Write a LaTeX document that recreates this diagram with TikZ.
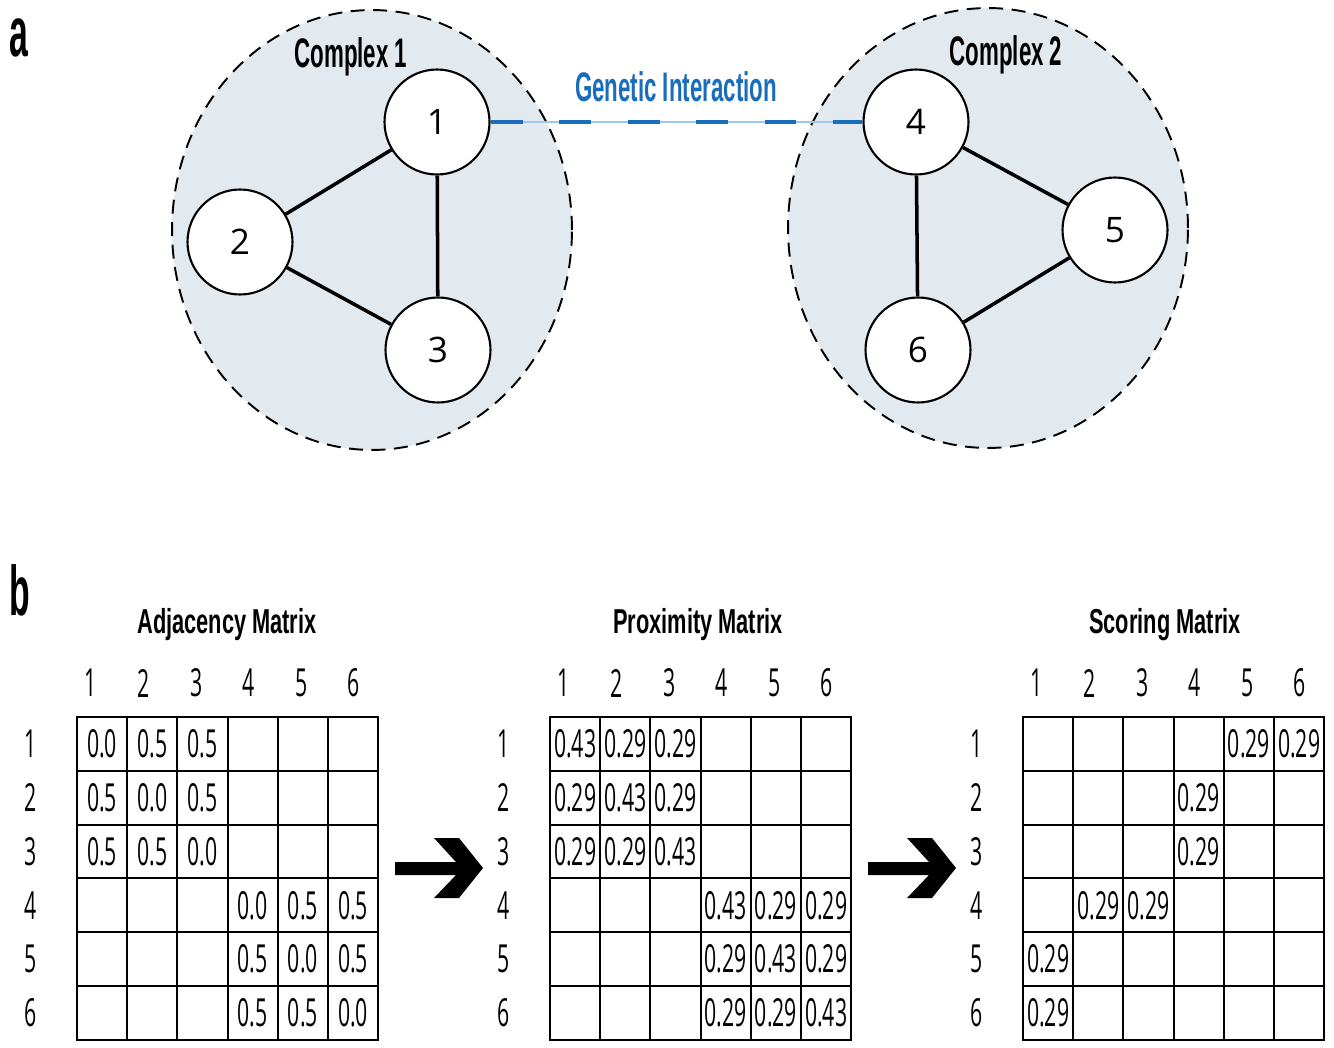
\documentclass[tikz,border=0pt]{standalone}
\usepackage{fontspec}
\setmainfont{Open Sans}
\usetikzlibrary{shapes.geometric}
\newfontfamily\numfont[FakeStretch=0.55]{Open Sans}
\newfontfamily\panelfont[FakeStretch=0.48]{Liberation Sans}
\newfontfamily\cplxfont[FakeStretch=0.54]{Liberation Sans}
\newfontfamily\titlefont[FakeStretch=0.63]{Liberation Sans}
\definecolor{cplxfill}{HTML}{E2EAF0}
\definecolor{gblue}{HTML}{1A6DBA}
\definecolor{lblue}{HTML}{9CC8EA}
\tikzset{
 cplx/.style={ellipse, draw, dash pattern=on 8pt off 4.8pt, line width=1.1pt, fill=cplxfill, inner sep=0pt},
 gnode/.style={circle, draw, fill=white, line width=1.2pt, minimum size=2.1cm, inner sep=0pt, font=\fontsize{20}{22}\selectfont},
 gedge/.style={line width=2pt},
 cell/.style={draw, line width=1.1pt, minimum width=1.004cm, minimum height=1.076cm, inner sep=0pt, outer sep=0pt},
 val/.style={inner sep=0pt, font=\numfont\fontsize{22}{24}\selectfont},
 lab/.style={inner sep=0pt, font=\numfont\fontsize{22}{24}\selectfont},
 cplxlab/.style={inner sep=0pt, anchor=base, font=\cplxfont\bfseries\fontsize{23.5}{26}\selectfont},
 mtitle/.style={inner sep=0pt, anchor=base, font=\titlefont\bfseries\fontsize{19.7}{22}\selectfont},
 panel/.style={inner sep=0pt, anchor=base west, font=\panelfont\bfseries\fontsize{40}{44}\selectfont},
 bigarrow/.style={fill=black},
}
\newcommand\mkgrid[2]{%
 \foreach \r in {1,...,6}{
  \node[lab] (#1r\r) at ({#2-46},{743.9+53.83*(\r-1)}) {\r};
  \node[lab] (#1c\r) at ({#2+14+52.6*(\r-1)},683) {\r};
  \foreach \c in {1,...,6}{
   \node[cell] (#1-\r-\c) at ({#2+25.1+50.2*(\c-1)},{743.9+53.83*(\r-1)}) {};
  }
 }
}
\newcommand\mkvals[2]{\foreach \r/\c/\v in {#2} \node[val] (#1v-\r-\c) at (#1-\r-\c) {\v};}
\newcommand\mkarrow[1]{%
 \fill[bigarrow] ({#1+395},862) -- ({#1+456},862) -- ({#1+434},838) -- ({#1+459},838) -- ({#1+483},868)
  -- ({#1+459},898) -- ({#1+434},898) -- ({#1+456},875) -- ({#1+395},875) -- cycle;}
\begin{document}
\begin{tikzpicture}[x=0.02cm,y=-0.02cm]
\useasboundingbox (0,0) rectangle (1334,1047);
% panel a
\node[panel] (pa) at (9,57) {a};
\node[cplx, minimum width=8cm, minimum height=8.8cm] (C1) at (372,230) {};
\node[cplx, minimum width=8cm, minimum height=8.8cm] (C2) at (988,228) {};
\node[cplxlab] (C1l) at (351,68) {Complex 1};
\node[cplxlab] (C2l) at (1006,66) {Complex 2};
\node[gnode] (n1) at (437,122) {1};
\node[gnode] (n2) at (240,242) {2};
\node[gnode] (n3) at (438,350) {3};
\node[gnode] (n4) at (916,122) {4};
\node[gnode] (n5) at (1115,230) {5};
\node[gnode] (n6) at (918,350) {6};
\draw[gedge] (n1) -- (n2);
\draw[gedge] (n1) -- (n3);
\draw[gedge] (n2) -- (n3);
\draw[gedge] (n4) -- (n5);
\draw[gedge] (n4) -- (n6);
\draw[gedge] (n5) -- (n6);
\draw[lblue, line width=0.8pt] (n1) -- (n4);
\draw[gblue, line width=2.8pt, dash pattern=on 0.64cm off 0.73cm] (n1) -- (n4);
\node[cplxlab, text=gblue] (gi) at (676,102) {Genetic Interaction};
% panel b
\node[panel] (pb) at (9,615) {b};
\node[mtitle] (t1) at (227,633) {Adjacency Matrix};
\node[mtitle] (t2) at (698,633) {Proximity Matrix};
\node[mtitle] (t3) at (1165,633) {Scoring Matrix};
\mkgrid{A}{77}
\mkgrid{P}{550}
\mkgrid{S}{1023}
\mkvals{A}{1/1/0.0,1/2/0.5,1/3/0.5,2/1/0.5,2/2/0.0,2/3/0.5,3/1/0.5,3/2/0.5,3/3/0.0,
 4/4/0.0,4/5/0.5,4/6/0.5,5/4/0.5,5/5/0.0,5/6/0.5,6/4/0.5,6/5/0.5,6/6/0.0}
\mkvals{P}{1/1/0.43,1/2/0.29,1/3/0.29,2/1/0.29,2/2/0.43,2/3/0.29,3/1/0.29,3/2/0.29,3/3/0.43,
 4/4/0.43,4/5/0.29,4/6/0.29,5/4/0.29,5/5/0.43,5/6/0.29,6/4/0.29,6/5/0.29,6/6/0.43}
\mkvals{S}{1/5/0.29,1/6/0.29,2/4/0.29,3/4/0.29,4/2/0.29,4/3/0.29,5/1/0.29,6/1/0.29}
\mkarrow{0}
\mkarrow{473}
\end{tikzpicture}
\end{document}
